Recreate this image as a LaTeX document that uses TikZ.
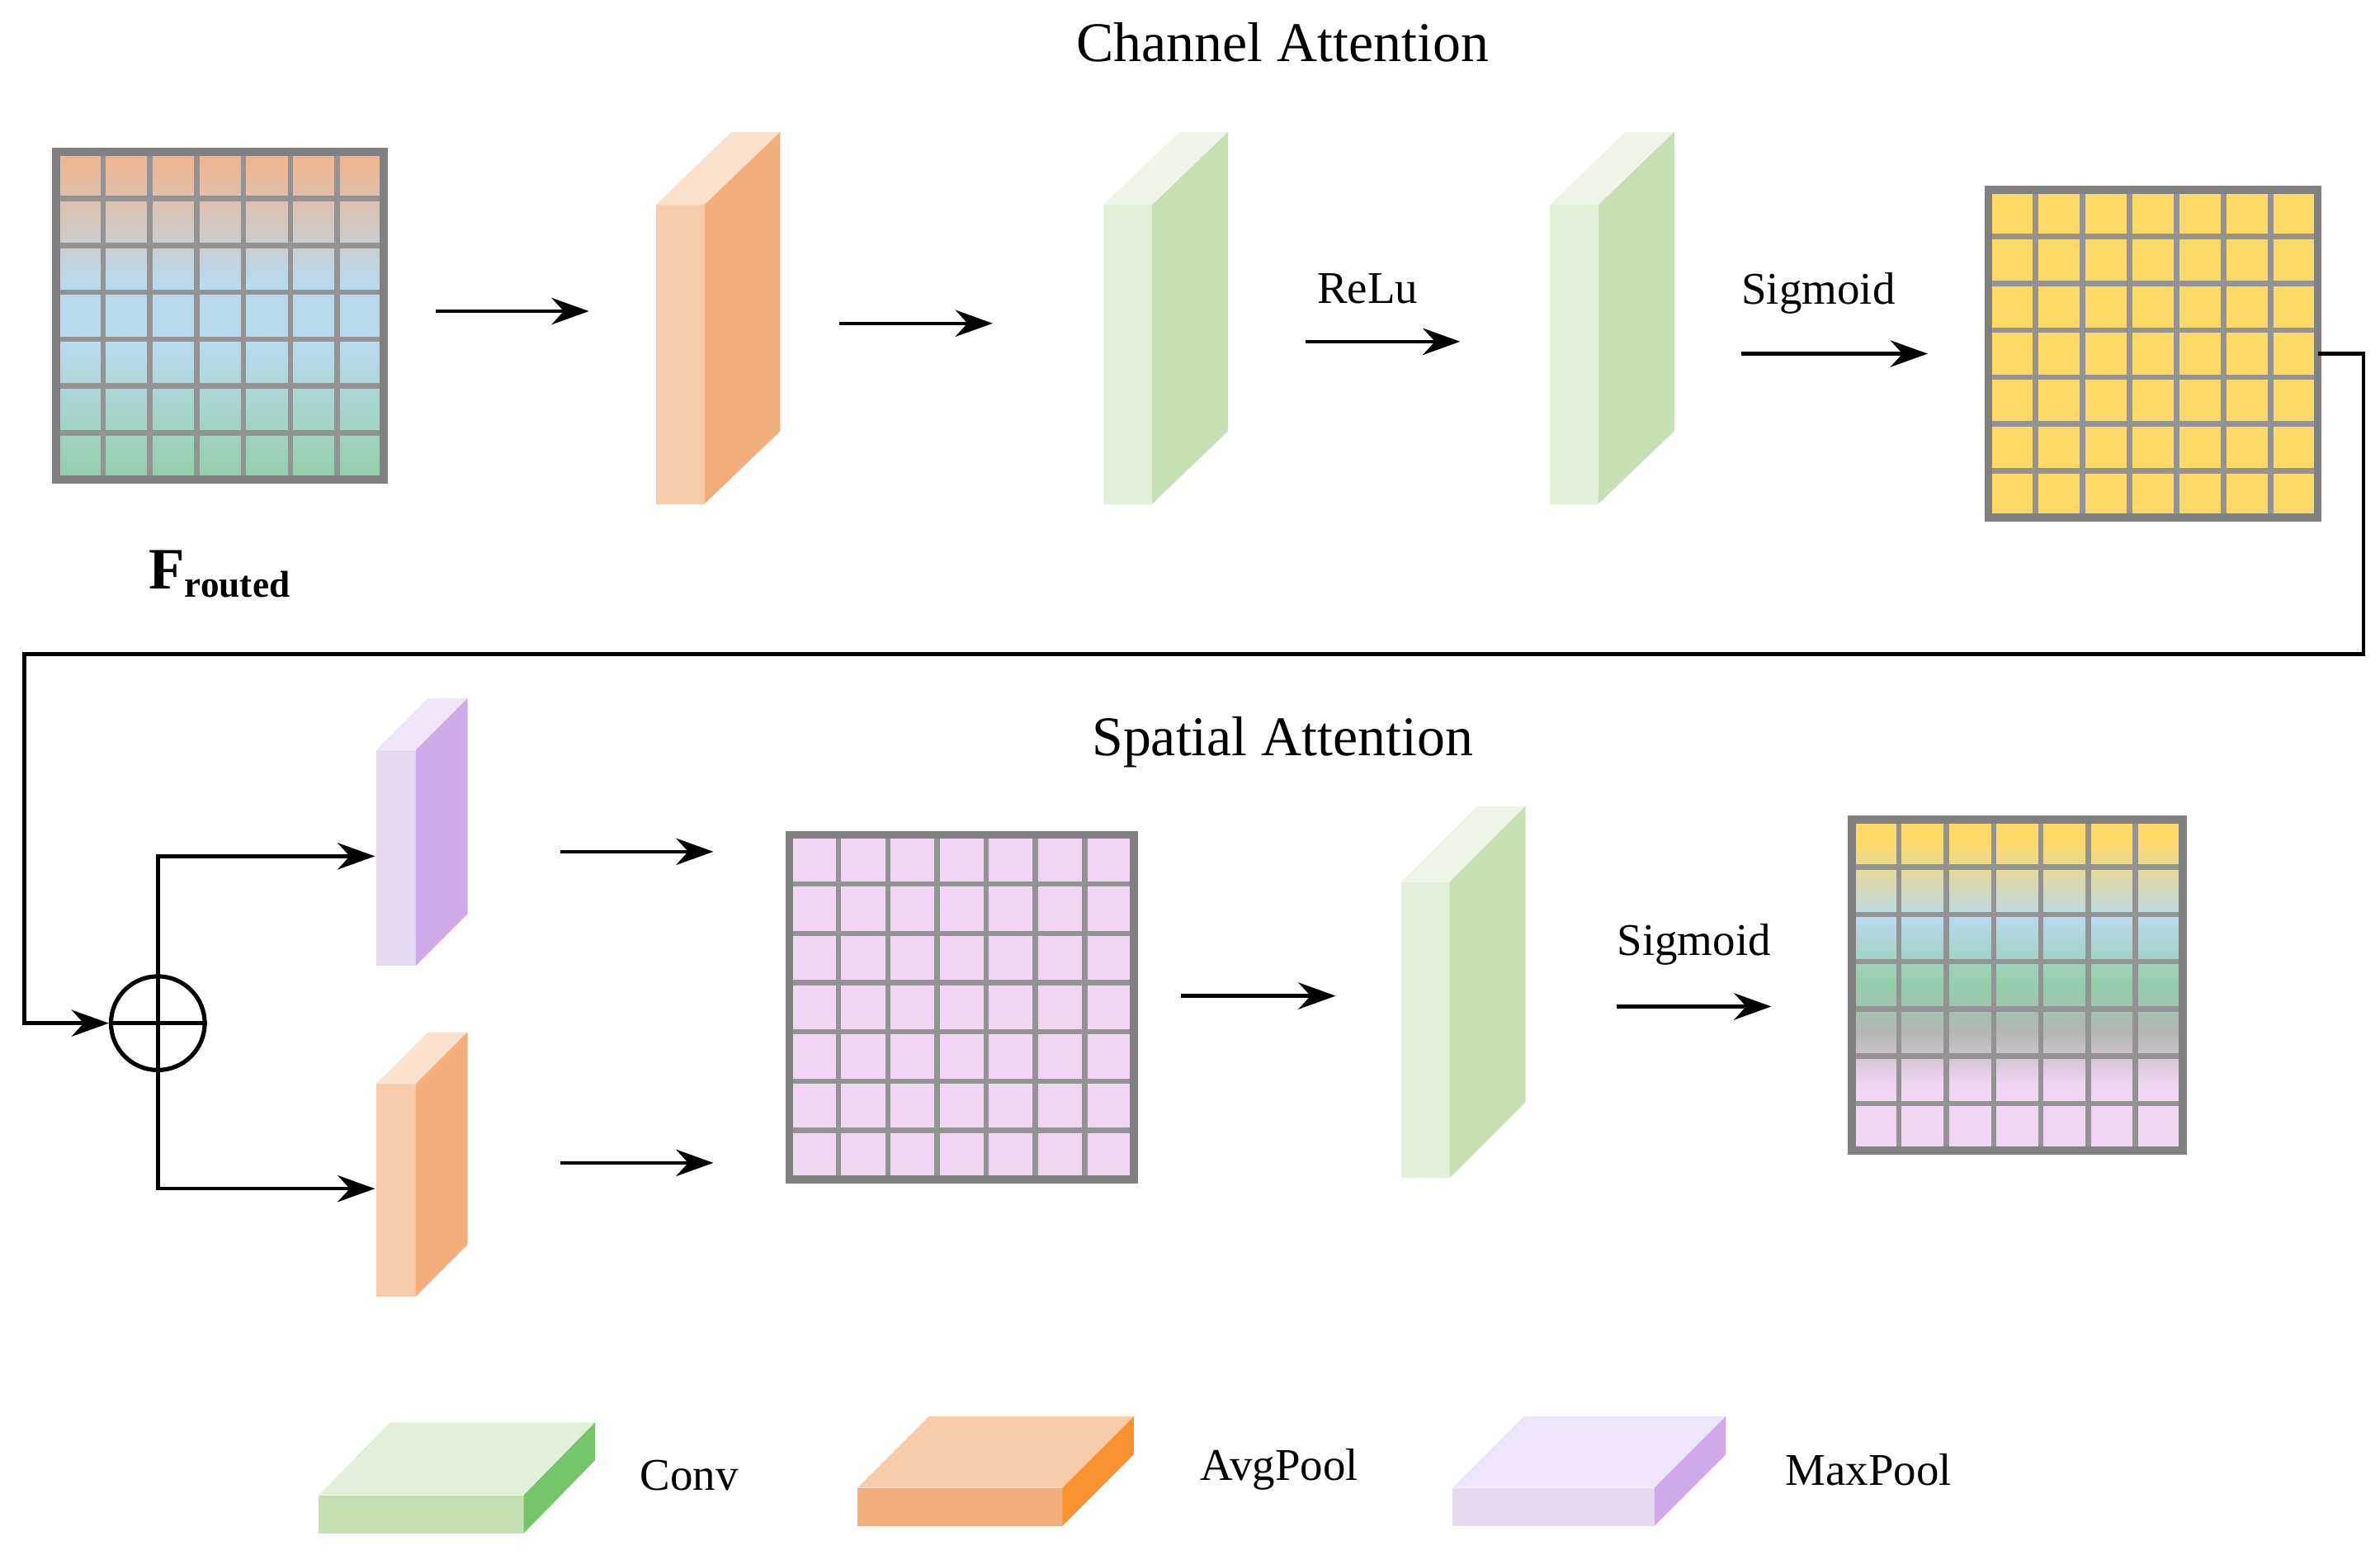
\documentclass[tikz,border=0pt]{standalone}
\usepackage{fontspec}
\setmainfont{Liberation Serif}
\usetikzlibrary{arrows.meta}
\definecolor{ofront}{HTML}{F8CBAA}\definecolor{oside}{HTML}{F2AD78}\definecolor{otop}{HTML}{FBE0CC}
\definecolor{gfront}{HTML}{E2EFD9}\definecolor{gside}{HTML}{C5E0B3}\definecolor{gtop}{HTML}{EEF5E8}
\definecolor{pfront}{HTML}{E6D9F2}\definecolor{pside}{HTML}{D0A9EA}\definecolor{ptop}{HTML}{EFE5F8}
\definecolor{yel}{HTML}{FFD966}\definecolor{pink}{HTML}{F0D6F2}
\definecolor{fo}{HTML}{F2B38A}\definecolor{fb}{HTML}{B9D9EC}\definecolor{fg}{HTML}{92CFA8}\definecolor{fgr}{HTML}{B5B5B5}
\pgfdeclareverticalshading{fmap}{100bp}{color(0bp)=(fg); color(25bp)=(fg); color(45bp)=(fb); color(55bp)=(fb); color(75bp)=(fo); color(100bp)=(fo)}
\pgfdeclareverticalshading{omap}{100bp}{color(0bp)=(pink); color(25bp)=(pink); color(35bp)=(pink); color(43bp)=(fgr); color(50bp)=(fg); color(60bp)=(fb); color(72bp)=(yel); color(100bp)=(yel)}
\tikzset{
 arr/.style={-{Stealth[length=14pt,width=10pt]},line width=1.4pt},
 ln/.style={line width=1.4pt},
 lab/.style={font=\fontsize{17}{20}\selectfont},
 tit/.style={font=\fontsize{21}{25}\selectfont},
 gl/.style={draw=gray!85,line width=2pt},
}
\def\slab(#1,#2,#3,#4,#5,#6)#7#8#9{%
 \fill[#7] (#1,#2) rectangle (#1+#3,#2+#4);
 \fill[#9] (#1,#2) -- (#1+#5,#2-#6) -- (#1+#3+#5,#2-#6) -- (#1+#3,#2) -- cycle;
 \fill[#8] (#1+#3,#2) -- (#1+#3+#5,#2-#6) -- (#1+#3+#5,#2+#4-#6) -- (#1+#3,#2+#4) -- cycle;}
\def\grid(#1,#2,#3,#4){%
 \foreach \i in {1,...,6}{
  \draw[gl] (#1+\i*#3/7,#2) -- (#1+\i*#3/7,#2+#4);
  \draw[gl] (#1,#2+\i*#4/7) -- (#1+#3,#2+\i*#4/7);}
 \draw[draw=gray,line width=3pt] (#1,#2) rectangle (#1+#3,#2+#4);}
\begin{document}
\begin{tikzpicture}[x=0.02cm,y=-0.02cm]
\useasboundingbox (0,0) rectangle (1568,1024);
\node[tit] (t1) at (845,28) {Channel Attention};
\node[tit] (t2) at (845,489) {Spatial Attention};
\shade[shading=fmap] (37,100) rectangle (253,316);
\grid(37,100,216,216)
\node[font=\fontsize{22}{26}\selectfont\bfseries] (F) at (145,378) {F\textsubscript{\fontsize{14}{16}\selectfont routed}};
\fill[yel] (1310,125) rectangle (1527,341);
\grid(1310,125,217,216)
\fill[pink] (520,550) rectangle (747,777);
\grid(520,550,227,227)
\shade[shading=omap] (1220,540) rectangle (1438,758);
\grid(1220,540,218,218)
\slab(432,135,32,197,50,48){ofront}{oside}{otop}
\slab(727,135,32,197,50,48){gfront}{gside}{gtop}
\slab(1021,135,32,197,50,48){gfront}{gside}{gtop}
\slab(248,494,26,142,34,34){pfront}{pside}{ptop}
\slab(248,714,26,140,34,34){ofront}{oside}{otop}
\slab(923,581,32,195,50,50){gfront}{gside}{gtop}
\slab(210,985,135,25,47,48){gside}{green!30!gside!85!black}{gfront}
\slab(565,980,135,25,47,47){oside}{orange!60!oside}{ofront}
\slab(957,980,133,25,47,47){pfront}{pside}{ptop}
\node[lab] (lc) at (454,972) {Conv};
\node[lab] (la) at (843,968) {AvgPool};
\node[lab] (lm) at (1231,968) {MaxPool};
\coordinate (a1) at (287,205); \coordinate (b1) at (388,205);
\coordinate (a2) at (553,213); \coordinate (b2) at (654,213);
\coordinate (a3) at (860,225); \coordinate (b3) at (962,225);
\coordinate (a4) at (1147,233); \coordinate (b4) at (1270,233);
\draw[arr] (a1) -- (b1); \draw[arr] (a2) -- (b2); \draw[arr] (a3) -- (b3); \draw[arr] (a4) -- (b4);
\node[lab] (relu) at (901,190) {ReLu};
\node[lab] (sg1) at (1198,193) {Sigmoid};
\node[draw,circle,minimum size=62pt*0.02/0.0352778,line width=1.6pt,inner sep=0] (plus) at (104,674) {};
\draw[ln] (plus.north) -- (plus.south) (plus.west) -- (plus.east);
\coordinate (y0) at (1527,233); \coordinate (ent) at (16,674);
\draw[arr] (y0) -- (1557,233) -- (1557,431) -- (16,431) -- (ent) -- (plus.west);
\coordinate (pt) at (247,564); \coordinate (pb) at (247,783);
\draw[arr] (plus.north) |- (pt);
\draw[arr] (plus.south) |- (pb);
\coordinate (a5) at (369,561); \coordinate (b5) at (470,561);
\coordinate (a6) at (369,766); \coordinate (b6) at (470,766);
\coordinate (a7) at (778,656); \coordinate (b7) at (880,656);
\coordinate (a8) at (1065,663); \coordinate (b8) at (1167,663);
\draw[arr] (a5) -- (b5); \draw[arr] (a6) -- (b6); \draw[arr] (a7) -- (b7); \draw[arr] (a8) -- (b8);
\node[lab] (sg2) at (1116,622) {Sigmoid};
\end{tikzpicture}
\end{document}
